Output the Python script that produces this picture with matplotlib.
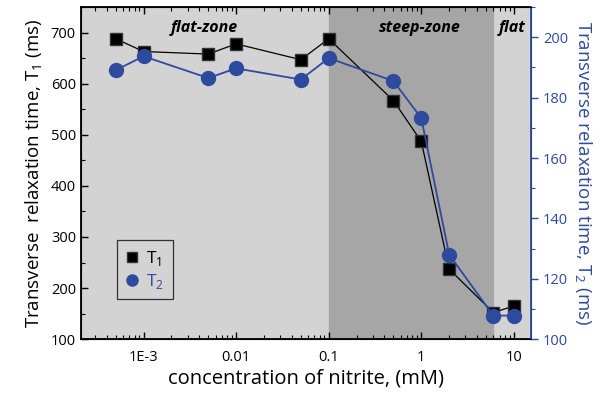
import matplotlib.pyplot as plt
import matplotlib as mpl
from matplotlib.ticker import LogLocator, MultipleLocator, NullFormatter

mpl.rcParams['font.family'] = ['Open Sans', 'DejaVu Sans']
mpl.rcParams['mathtext.fontset'] = 'custom'
mpl.rcParams['mathtext.rm'] = 'Open Sans'

# data
conc = [5e-4, 1e-3, 5e-3, 0.01, 0.05, 0.1, 0.5, 1, 2, 6, 10]
t1 = [688, 663, 658, 678, 647, 688, 567, 487, 237, 152, 165]
t2 = [189.1, 193.7, 186.5, 189.7, 186.0, 193.1, 185.5, 173.2, 128.0, 107.8, 107.8]
xticks = [1e-3, 0.01, 0.1, 1, 10]
xtick_labels = ['1E-3', '0.01', '0.1', '1', '10']
steep_zone = (0.1, 5.9)

blue = '#2E4A9E'

fig = plt.figure(figsize=(6.03, 3.93), dpi=100)
ax = fig.add_axes([0.134, 0.137, 0.747, 0.845])
ax2 = ax.twinx()

ax.set_xscale('log')
ax.set_xlim(2.1e-4, 15.4)
ax.set_ylim(100, 750)
ax2.set_ylim(100, 210)

# background zones
ax.set_facecolor('#d3d3d3')
ax.axvspan(*steep_zone, color='#a6a6a6', zorder=0)

ax.plot(conc, t1, color='black', lw=0.9, marker='s', ms=9,
        mfc='black', mec='#333333', label='T$_1$', zorder=3)
ax2.plot(conc, t2, color=blue, lw=1.3, marker='o', ms=10,
         mfc=blue, mec=blue, label='T$_2$', zorder=3)

zone_kw = dict(ha='center', va='center', fontsize=11.5, fontweight='bold', style='italic')
ax.text(4.5e-3, 710, 'flat-zone', **zone_kw)
ax.text(0.95, 710, 'steep-zone', **zone_kw)
ax.text(9.5, 710, 'flat', **zone_kw)

# ticks
ax.set_xticks(xticks)
ax.set_xticklabels(xtick_labels)
ax.xaxis.set_minor_locator(LogLocator(base=10, subs=range(2, 10), numticks=20))
ax.xaxis.set_minor_formatter(NullFormatter())
ax.yaxis.set_major_locator(MultipleLocator(100))
ax.yaxis.set_minor_locator(MultipleLocator(50))
ax.tick_params(which='both', direction='in', top=True, right=False, labelsize=10.5)
ax.tick_params(which='major', length=5, width=1)
ax.tick_params(which='minor', length=3, width=0.8)
ax.tick_params(axis='x', pad=8)

ax2.yaxis.set_major_locator(MultipleLocator(20))
ax2.yaxis.set_minor_locator(MultipleLocator(10))
ax2.tick_params(which='both', direction='out', colors=blue, labelsize=10.5)
ax2.tick_params(which='major', length=5, width=1)
ax2.tick_params(which='minor', length=3, width=0.8)
ax2.spines['right'].set_color(blue)
ax2.spines['right'].set_linewidth(1.3)
for s in ['left', 'bottom', 'top']:
    ax.spines[s].set_linewidth(1.3)

ax.set_xlabel('concentration of nitrite, (mM)', fontsize=14.5, labelpad=2)
ax.set_ylabel('Transverse  relaxation time, T$_1$ (ms)', fontsize=13.5, labelpad=4)
ax2.set_ylabel('Transverse relaxation time, T$_2$ (ms)', fontsize=13.5,
               color=blue, rotation=270, labelpad=18)

h1, l1 = ax.get_legend_handles_labels()
h2, l2 = ax2.get_legend_handles_labels()
leg = ax2.legend(h1 + h2, l1 + l2, loc='lower left', bbox_to_anchor=(0.08, 0.12),
                 fontsize=12.5, frameon=True, fancybox=False, facecolor='none',
                 edgecolor='#333333', handlelength=0.8, handletextpad=0.4,
                 borderpad=0.5, labelspacing=0.2, markerscale=0.8,
                 borderaxespad=0)
leg.get_frame().set_alpha(None)
leg.get_frame().set_facecolor('none')
leg.get_frame().set_linewidth(0.9)
leg.get_texts()[1].set_color(blue)
for h in leg.legend_handles:
    h.set_linestyle('none')

fig.savefig('out.png', dpi=100)
